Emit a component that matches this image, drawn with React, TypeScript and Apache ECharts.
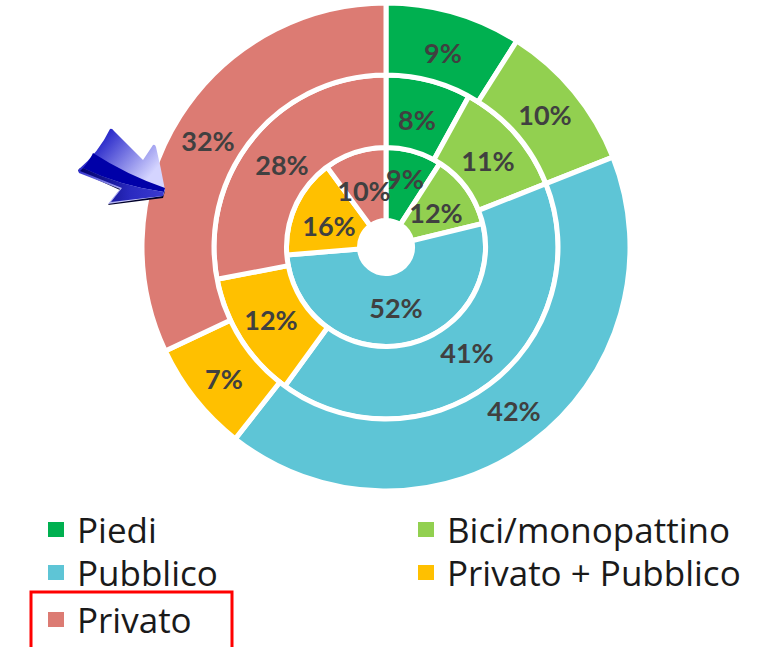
import React, { useEffect, useRef } from "react";
import * as echarts from "echarts";

const categories = ["Piedi", "Bici/monopattino", "Pubblico", "Privato + Pubblico", "Privato"];
const colors = ["#00B050", "#92D050", "#5EC5D6", "#FFC000", "#DC7B73"];
const innerValues = [9, 12, 52, 16, 10];
const middleValues = [8, 11, 41, 12, 28];
const outerValues = [9, 10, 41.6, 7.4, 32];

const innerLabelAt = [[405, 178], [436, 212], [396, 307], [329, 225], [364, 190]];
const middleLabelAt = [[417, 119], [488, 160], [467, 352], [271, 319], [282, 164]];
const outerLabelAt = [[443, 52], [545, 114], [514, 410], [224, 378], [208, 140]];

const legendAt = [[48, 512], [418, 512], [48, 555], [418, 555], [48, 602]];

const FONT = "'Open Sans', Lato, sans-serif";
const LABEL_FONT = "Lato, 'Open Sans', sans-serif";

const arrowBody = "M110 129 Q112 128 114 131 L143 160 L153 145 Q155 144 156 147 Q161 168 165 190 L163 196 L108 204 L120 189 L79 173 L78 170 Q99 152 110 129 Z";
const arrowShadow = "M78 171 L120 190 L108 205 L163 198 L165 191 L112 200 L122 187 L80 168 Z";
const arrowBand = "M93 153 Q127 175 165 188 L164 192 Q120 186 83 168 Q90 160 93 153 Z";
const arrowLower = "M83 168 Q120 186 164 192 L163 196 L111 202 L122 188 L80 171 Z";

echarts.graphic.registerShape("arrowBody", echarts.graphic.extendPath(arrowBody, {}));
echarts.graphic.registerShape("arrowShadow", echarts.graphic.extendPath(arrowShadow, {}));
echarts.graphic.registerShape("arrowBand", echarts.graphic.extendPath(arrowBand, {}));
echarts.graphic.registerShape("arrowLower", echarts.graphic.extendPath(arrowLower, {}));

function ring(values: number[], radius: [string, string], labelAt: number[][]) {
  return {
    type: "pie",
    center: [386, 247],
    radius,
    startAngle: 90,
    clockwise: true,
    silent: true,
    avoidLabelOverlap: false,
    itemStyle: { borderColor: "#ffffff", borderWidth: 5 },
    label: {
      show: true,
      position: "inside",
      formatter: (p: any) => `${Math.round(p.value)}%`,
      color: "#404040",
      fontFamily: LABEL_FONT,
      fontWeight: 700,
      fontSize: 27,
    },
    labelLine: { show: false },
    labelLayout: (p: any) => ({
      x: labelAt[p.dataIndex][0],
      y: labelAt[p.dataIndex][1],
      align: "center",
      verticalAlign: "middle",
    }),
    data: values.map((value, i) => ({
      name: categories[i],
      value,
      itemStyle: { color: colors[i] },
    })),
  };
}

export default function App() {
  const ref = useRef<HTMLDivElement>(null);
  useEffect(() => {
    document.body.style.margin = "0";
    const chart = echarts.init(ref.current!, null, { renderer: "svg" });
    chart.setOption({
      animation: false,
      backgroundColor: "#ffffff",
      legend: categories.map((name, i) => ({
        data: [name],
        left: legendAt[i][0] - 2,
        top: legendAt[i][1],
        orient: "horizontal",
        icon: "rect",
        itemWidth: 18,
        itemHeight: 17,
        itemGap: 0,
        padding: 0,
        selectedMode: false,
        textStyle: { fontFamily: FONT, fontSize: 35, color: "#1a1a1a", padding: [0, 0, 0, 7] },
      })),
      series: [
        ring(innerValues, ["26.5", "99.5"], innerLabelAt),
        ring(middleValues, ["99.5", "172"], middleLabelAt),
        ring(outerValues, ["172", "244"], outerLabelAt),
      ],
      graphic: [
        { type: "arrowShadow", x: 0, y: 0, z: 10, style: { fill: "#00002a" } },
        {
          type: "arrowBody", x: 0, y: 0, z: 11,
          style: {
            fill: new echarts.graphic.LinearGradient(0.15, 0.1, 0.85, 0.6, [
              { offset: 0, color: "#0c0cc0" },
              { offset: 0.5, color: "#7070e0" },
              { offset: 1, color: "#d4d4ff" },
            ]),
          },
        },
        { type: "arrowBand", x: 0, y: 0, z: 12, style: { fill: "#0000a8" } },
        {
          type: "arrowLower", x: 0, y: 0, z: 12,
          style: {
            fill: new echarts.graphic.LinearGradient(0, 0, 1, 0, [
              { offset: 0, color: "#00006a" },
              { offset: 0.6, color: "#2a2ac0" },
              { offset: 1, color: "#3a3ad0" },
            ]),
          },
        },
        {
          type: "polyline", z: 13,
          shape: { points: [[31, 647], [31, 592], [232, 592], [232, 647]] },
          style: { stroke: "#FF0000", lineWidth: 3, fill: "none" },
        },
      ],
    });
    return () => chart.dispose();
  }, []);
  return <div ref={ref} style={{ width: 767, height: 647 }} />;
}
